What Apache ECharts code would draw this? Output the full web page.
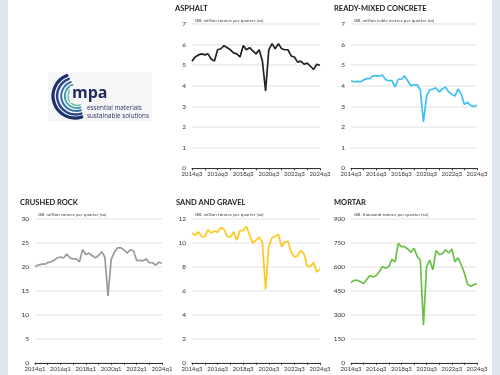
<!DOCTYPE html>
<html><head><meta charset="utf-8">
<script src="https://cdn.jsdelivr.net/npm/echarts@6/dist/echarts.min.js"></script>
<style>html,body{margin:0;padding:0;background:#fff}#c{width:500px;height:375px}</style>
</head><body><div id="c"></div>
<script>
function quarters(startYear, startQ, n){var a=[];var y=startYear,q=startQ;for(var i=0;i<n;i++){a.push(y+'q'+q);q++;if(q>4){q=1;y++;}}return a;}
var quartersQ3 = quarters(2014,3,41);
var quartersQ1 = quarters(2014,1,41);

var asphalt = [5.2,5.4,5.5,5.55,5.5,5.55,5.3,5.2,5.75,5.8,5.95,5.85,5.75,5.6,5.55,5.4,5.95,5.75,5.85,5.7,5.55,5.75,5.2,3.75,5.75,6.05,5.8,6.05,5.8,5.75,5.75,5.45,5.4,5.15,5.2,5.05,5.1,4.95,4.8,5.05,5.0];
var readyMixed = [4.25,4.2,4.22,4.2,4.28,4.35,4.35,4.5,4.48,4.48,4.52,4.3,4.25,4.25,3.95,4.32,4.32,4.48,4.25,4.0,4.05,4.05,3.8,2.25,3.5,3.8,3.85,3.9,3.7,3.85,3.95,3.7,3.6,3.5,3.85,3.6,3.1,3.2,3.05,3.0,3.05];
var crushedRock = [20.0,20.3,20.5,20.5,20.8,21.0,21.3,21.8,22.0,21.8,22.6,21.8,21.6,21.6,21.0,23.5,22.5,22.8,22.3,21.8,22.3,23.1,22.0,13.9,21.5,23.0,23.9,23.9,23.5,22.8,23.5,23.3,21.3,21.3,21.2,21.6,20.8,20.8,20.3,20.9,20.7];
var sandGravel = [10.8,10.6,10.9,10.5,10.5,11.05,10.8,10.95,10.85,11.25,11.1,10.5,10.45,10.9,10.2,11.0,11.0,11.35,10.6,9.95,10.2,10.45,10.0,6.1,9.7,10.4,10.5,10.7,9.65,10.05,10.1,9.2,8.8,8.9,9.35,9.05,8.05,8.0,8.35,7.55,7.8];
var mortar = [500,515,515,505,495,520,545,535,545,570,600,590,600,645,630,745,725,725,710,690,715,665,640,235,600,640,580,700,675,680,705,685,710,630,655,610,560,490,478,487,495];

var titles = ['ASPHALT','READY-MIXED CONCRETE','CRUSHED ROCK','SAND AND GRAVEL','MORTAR'];
var units = ['GB, million tonnes per quarter (sa)','GB, million cubic metres per quarter (sa)','GB, million tonnes per quarter (sa)','GB, million tonnes per quarter (sa)','GB, thousand tonnes per quarter (sa)'];
var yMax = [7,7,30,12,900];
var yStep = [1,1,5,2,150];

var panels = [
 {data:asphalt, cats:quartersQ3, color:'#222222', left:192, width:128, top:24, tx:175, ty:9},
 {data:readyMixed, cats:quartersQ3, color:'#3fc0f0', left:351, width:126, top:24, tx:334, ty:9},
 {data:crushedRock, cats:quartersQ1, color:'#9a9a9a', left:35, width:127, top:218.5, tx:20, ty:203},
 {data:sandGravel, cats:quartersQ3, color:'#fcc91c', left:192, width:128, top:218.5, tx:176, ty:203},
 {data:mortar, cats:quartersQ3, color:'#6abf45', left:351, width:126, top:218.5, tx:334, ty:203}
];
var H = 144.3;
var font = 'Lato, "Open Sans", sans-serif';
var grids=[],xAxes=[],yAxes=[],series=[],graphics=[];
graphics.push({type:'rect',left:0,top:0,shape:{width:8,height:375},style:{fill:'#dfe5ec'},silent:true});
graphics.push({type:'rect',left:492,top:0,shape:{width:8,height:375},style:{fill:'#dfe5ec'},silent:true});
panels.forEach(function(p,k){
  grids.push({left:p.left,top:p.top,width:p.width,height:H,containLabel:false});
  xAxes.push({type:'category',gridIndex:k,data:p.cats,boundaryGap:false,
    axisLine:{lineStyle:{color:'#333',width:1}},
    axisTick:{interval:3,length:2,lineStyle:{color:'#333'}},
    axisLabel:{interval:7,fontSize:6,color:'#333',margin:3,fontFamily:font}});
  yAxes.push({type:'value',gridIndex:k,min:0,max:yMax[k],interval:yStep[k],
    axisLine:{show:false},axisTick:{show:false},
    axisLabel:{fontSize:6.5,color:'#333',margin:6,fontFamily:font},
    splitLine:{lineStyle:{color:'#ebebeb',width:1.5}}});
  series.push({type:'line',xAxisIndex:k,yAxisIndex:k,data:p.data,symbol:'none',
    lineStyle:{color:p.color,width:1.7},animation:false});
  graphics.push({type:'text',left:p.tx,top:p.ty-4,style:{text:titles[k],fontSize:7.5,fontWeight:'bold',fill:'#222',fontFamily:font}});
  graphics.push({type:'text',left:p.left+3,top:p.top-6,style:{text:units[k],fontSize:4.6,fill:'#444',fontFamily:font}});
});
// logo
graphics.push({type:'rect',left:48,top:72,shape:{width:104,height:50},style:{fill:'#f6f6f6'},silent:true});
var arcColors=['#1e2f6b','#27458a','#3471a8','#3f99ac','#6cc0a8'];
var arcR=[22,18.5,15,12,9.5];
var arcW=[3.2,2.4,2,1.7,1.5];
arcColors.forEach(function(c,i){
  graphics.push({type:'arc',shape:{cx:75+i*0.6,cy:96,r:arcR[i],startAngle:Math.PI*0.4,endAngle:Math.PI*1.38,clockwise:true},style:{stroke:c,lineWidth:arcW[i],fill:null,lineCap:'round'}});
});
graphics.push({type:'rect',left:70,top:86,shape:{width:38,height:17},style:{fill:'#f6f6f6'},silent:true});
graphics.push({type:'text',left:72,top:85,style:{text:'mpa',fontSize:16,fontWeight:'bold',fill:'#1f2a5e',fontFamily:'"Open Sans", sans-serif'}});
graphics.push({type:'text',left:87,top:105.5,style:{text:'essential materials',fontSize:6.3,fill:'#2a3566',fontFamily:'"Open Sans", sans-serif'}});
graphics.push({type:'text',left:87,top:113.5,style:{text:'sustainable solutions',fontSize:6.3,fill:'#2a3566',fontFamily:'"Open Sans", sans-serif'}});

var chart = echarts.init(document.getElementById('c'),null,{renderer:'canvas'});
chart.setOption({animation:false,backgroundColor:'#fff',grid:grids,xAxis:xAxes,yAxis:yAxes,series:series,graphic:graphics});
</script></body></html>
